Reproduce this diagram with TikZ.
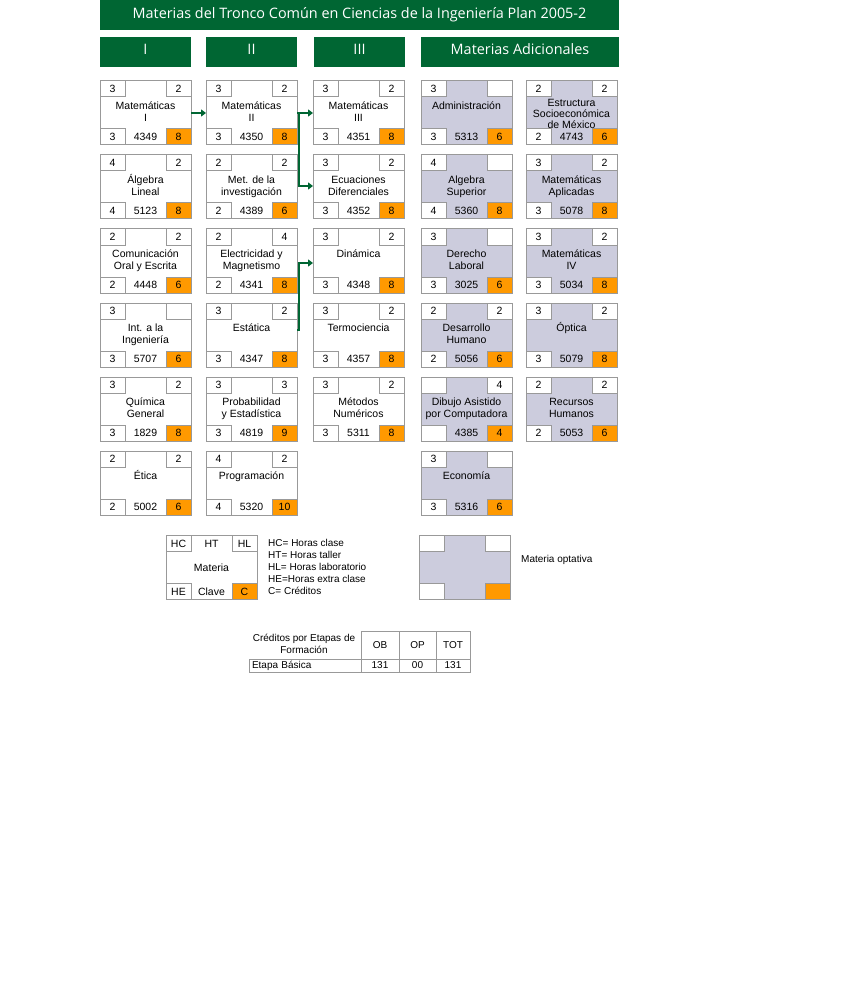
\documentclass[tikz,border=0pt]{standalone}
\usepackage{fontspec}
\setmainfont{Liberation Sans}
\newfontfamily\titlefont{Open Sans}
\usetikzlibrary{arrows.meta,calc}
\definecolor{uabcgreen}{RGB}{0,102,51}
\definecolor{credor}{RGB}{255,153,0}
\definecolor{optgray}{RGB}{204,204,221}
\definecolor{boxline}{RGB}{153,153,153}
\tikzset{
 subjbox/.style={draw=boxline, line width=1pt, minimum width=91pt, minimum height=64pt, inner sep=0pt, outer sep=0pt},
 cellbox/.style={draw=boxline, line width=1pt, fill=white, minimum width=25pt, minimum height=16pt, inner sep=0pt, outer sep=0pt, font=\fontsize{10.5}{12}\selectfont},
 credbox/.style={cellbox, fill=credor},
 subjtxt/.style={font=\fontsize{10.5}{12}\selectfont, inner sep=0pt, align=center},
 greenbar/.style={fill=uabcgreen, text=white, inner sep=0pt, outer sep=0pt, font=\titlefont\fontsize{14.4}{16}\selectfont, text height=10pt, text depth=4pt},
 arr/.style={draw=uabcgreen, line width=2pt, -{Triangle[length=5pt,width=7pt]}},
 plaintxt/.style={font=\fontsize{10}{12}\selectfont, inner sep=0pt},
 tabcell/.style={draw=boxline, line width=1pt, inner sep=0pt, outer sep=0pt, font=\fontsize{10}{12}\selectfont}
}
\newcommand\subj[9]{%
 \node[subjbox, fill=#4] (#1) at (#2+45.5,#3+32) {};
 \node[cellbox, anchor=north west] (#1-hc) at (#1.north west) {#5};
 \node[cellbox, anchor=north east] (#1-hl) at (#1.north east) {#6};
 \node[cellbox, anchor=south west] (#1-he) at (#1.south west) {#7};
 \node[credbox, anchor=south east] (#1-cr) at (#1.south east) {#9};
 \node[subjtxt] (#1-cl) at ([yshift=8pt]#1.south) {#8};
 \def\curname{#1}\subjtitle}
\newcommand\subjtitle[2][]{\node[subjtxt, anchor=north, #1] (\curname-t) at ([yshift=-19pt]\curname.north) {\rule{0pt}{9.5pt}#2};}
\begin{document}
\begin{tikzpicture}[x=1pt,y=-1pt]
\useasboundingbox (0,0) rectangle (843,984);
% headers
\node[greenbar, minimum width=519pt, minimum height=30pt, text depth=2pt] (title) at (359.5,15) {Materias del Tronco Común en Ciencias de la Ingeniería Plan 2005-2};
\node[greenbar, minimum width=91pt, minimum height=30pt] (h1) at (145.5,52) {I};
\node[greenbar, minimum width=91pt, minimum height=30pt] (h2) at (251.5,52) {II};
\node[greenbar, minimum width=91pt, minimum height=30pt] (h3) at (359.5,52) {III};
\node[greenbar, minimum width=198pt, minimum height=30pt] (h4) at (520,52) {Materias Adicionales};
% column I
\subj{mat1}{100}{81}{white}{3}{2}{3}{4349}{8}{Matemáticas\\I}
\subj{alg}{100}{155}{white}{4}{2}{4}{5123}{8}{Álgebra\\Lineal}
\subj{com}{100}{229}{white}{2}{2}{2}{4448}{6}{Comunicación\\Oral y Escrita}
\subj{intro}{100}{303}{white}{3}{}{3}{5707}{6}{Int. a la\\Ingeniería}
\subj{qui}{100}{377}{white}{3}{2}{3}{1829}{8}{Química\\General}
\subj{eti}{100}{451}{white}{2}{2}{2}{5002}{6}{Ética}
% column II
\subj{mat2}{206}{81}{white}{3}{2}{3}{4350}{8}{Matemáticas\\II}
\subj{met}{206}{155}{white}{2}{2}{2}{4389}{6}{Met. de la\\investigación}
\subj{ele}{206}{229}{white}{2}{4}{2}{4341}{8}{Electricidad y\\Magnetismo}
\subj{est}{206}{303}{white}{3}{2}{3}{4347}{8}{Estática}
\subj{pro}{206}{377}{white}{3}{3}{3}{4819}{9}{Probabilidad\\y Estadística}
\subj{prg}{206}{451}{white}{4}{2}{4}{5320}{10}{Programación}
% column III
\subj{mat3}{313}{81}{white}{3}{2}{3}{4351}{8}{Matemáticas\\III}
\subj{ecu}{313}{155}{white}{3}{2}{3}{4352}{8}{Ecuaciones\\Diferenciales}
\subj{din}{313}{229}{white}{3}{2}{3}{4348}{8}{Dinámica}
\subj{ter}{313}{303}{white}{3}{2}{3}{4357}{8}{Termociencia}
\subj{mnu}{313}{377}{white}{3}{2}{3}{5311}{8}{Métodos\\Numéricos}
% additional 1
\subj{adm}{421}{81}{optgray}{3}{}{3}{5313}{6}{Administración}
\subj{als}{421}{155}{optgray}{4}{}{4}{5360}{8}{Algebra\\Superior}
\subj{der}{421}{229}{optgray}{3}{}{3}{3025}{6}{Derecho\\Laboral}
\subj{des}{421}{303}{optgray}{2}{2}{2}{5056}{6}{Desarrollo\\Humano}
\subj{dib}{421}{377}{optgray}{}{4}{}{4385}{4}{Dibujo Asistido\\por Computadora}
\subj{eco}{421}{451}{optgray}{3}{}{3}{5316}{6}{Economía}
% additional 2
\subj{esm}{526}{81}{optgray}{2}{2}{2}{4743}{6}[yshift=3pt, font=\fontsize{10.5}{11}\selectfont]{Estructura\\Socioeconómica\\de México}
\subj{map}{526}{155}{optgray}{3}{2}{3}{5078}{8}{Matemáticas\\Aplicadas}
\subj{mat4}{526}{229}{optgray}{3}{2}{3}{5034}{8}{Matemáticas\\IV}
\subj{opt}{526}{303}{optgray}{3}{2}{3}{5079}{8}{Óptica}
\subj{rec}{526}{377}{optgray}{2}{2}{2}{5053}{6}{Recursos\\Humanos}
% arrows
\draw[arr] (mat1.east) -- (mat2.west);
\coordinate (j1) at ([xshift=1.5pt]mat2.east);
\draw[arr] (mat2.east) -- (j1) -- (mat3.west);
\draw[arr] (j1) |- ([yshift=1pt]ecu.west);
\coordinate (j2) at ([xshift=1.5pt,yshift=5pt]est.east);
\draw[arr] ([yshift=5pt]est.east) -- (j2) |- ([yshift=-2pt]din.west);
% legend
\subj{leg}{166}{535.5}{white}{HC}{HL}{HE}{Clave}{C}{}
\node[subjtxt] (leght) at ([yshift=-8pt]leg.north) {HT};
\node[subjtxt] (legmat) at (leg.center) {Materia};
\node[plaintxt, anchor=north west, align=left] (legtxt) at (268,538.6) {\rule{0pt}{8pt}HC= Horas clase\\HT= Horas taller\\HL= Horas laboratorio\\HE=Horas extra clase\\C= Créditos};
\subj{optl}{419}{535.5}{optgray}{}{}{}{}{}{}
\node[plaintxt, anchor=base west] (opttxt) at (521,562.6) {Materia optativa};
% credits table
\node[subjtxt, font=\fontsize{10}{12}\selectfont, anchor=north] (tabh) at (304,632.1) {\rule{0pt}{9.5pt}Créditos por Etapas de\\Formación};
\node[tabcell, minimum width=38pt, minimum height=28pt] (tob) at (380,645) {OB};
\node[tabcell, minimum width=37pt, minimum height=28pt] (top) at (417.5,645) {OP};
\node[tabcell, minimum width=34pt, minimum height=28pt] (ttot) at (453,645) {TOT};
\node[tabcell, minimum width=112pt, minimum height=13pt, text width=106pt, align=left] (teb) at (305,665.5) {Etapa Básica};
\node[tabcell, minimum width=38pt, minimum height=13pt] (tobv) at (380,665.5) {131};
\node[tabcell, minimum width=37pt, minimum height=13pt] (topv) at (417.5,665.5) {00};
\node[tabcell, minimum width=34pt, minimum height=13pt] (ttotv) at (453,665.5) {131};
\end{tikzpicture}
\end{document}
